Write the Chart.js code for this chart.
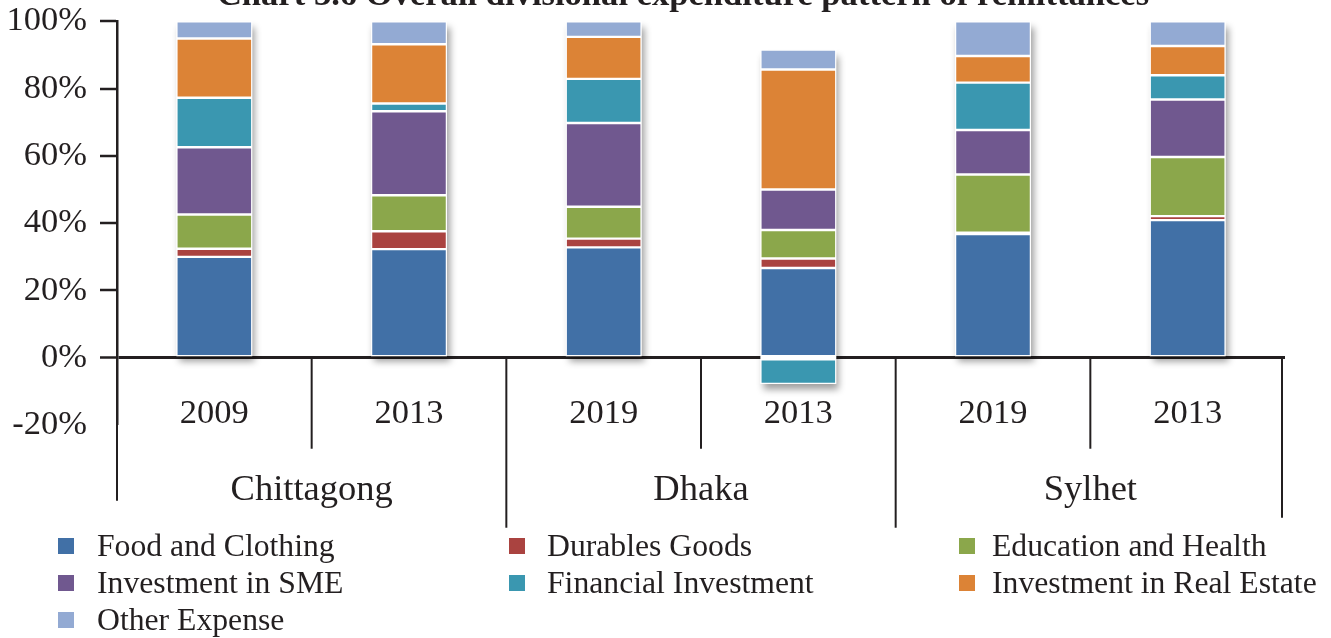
<!DOCTYPE html>
<html>
<head>
<meta charset="utf-8">
<script src="https://cdn.jsdelivr.net/npm/chart.js@4.4.1/dist/chart.umd.min.js"></script>
<style>
  html, body { margin: 0; padding: 0; background: #ffffff; overflow: hidden; }
  #wrap { position: absolute; left: 0; top: -24px; width: 1331px; height: 662px; }
</style>
</head>
<body>
<div id="wrap"><canvas id="c" width="1331" height="662"></canvas></div>
<script>
// ---- data ----
const chartTitle = 'Chart 3.6 Overall divisional expenditure pattern of remittances';
const categories = ['2009', '2013', '2019', '2013', '2019', '2013'];
const groups = ['Chittagong', 'Dhaka', 'Sylhet'];
const groupSizes = [2, 2, 2];
const yTickValues = [-20, 0, 20, 40, 60, 80, 100];

const foodClothing      = [30.0, 32.3, 32.8, 26.7, 36.8, 40.9];
const durablesGoods     = [2.4, 5.3, 2.6, 2.8, 0.4, 1.2];
const educationHealth   = [10.2, 10.7, 9.5, 8.5, 17.3, 17.6];
const investmentSME     = [20.0, 25.0, 24.9, 12.0, 13.2, 17.1];
const financialInvest   = [14.7, 2.3, 13.1, -7.8, 14.1, 7.2];
const realEstate        = [17.6, 17.6, 12.5, 35.7, 7.9, 8.7];
const otherExpense      = [5.1, 6.8, 4.6, 5.9, 10.3, 7.3];

const seriesNames = ['Food and Clothing', 'Durables Goods', 'Education and Health',
  'Investment in SME', 'Financial Investment', 'Investment in Real Estate', 'Other Expense'];
const seriesValues = [foodClothing, durablesGoods, educationHealth, investmentSME,
  financialInvest, realEstate, otherExpense];
const seriesColors = ['#4170A6', '#AA4340', '#8BA74B', '#70588F', '#3A97B0', '#DC8336', '#93AAD3'];

const TEXT = '#231f20';
const SERIF = '"Liberation Serif", "Times New Roman", serif';

const datasets = seriesNames.map((name, i) => ({
  label: name,
  data: seriesValues[i],
  backgroundColor: seriesColors[i],
  borderColor: '#ffffff',
  borderWidth: 1.2,
  borderSkipped: false,
  stack: 's'
}));

const decor = {
  id: 'decor',
  beforeDatasetsDraw(chart) {
    const ctx = chart.ctx;
    const n = categories.length;
    ctx.save();
    for (let i = 0; i < n; i++) {
      let top = Infinity, bottom = -Infinity, x = 0, w = 0;
      chart.data.datasets.forEach((d, di) => {
        const el = chart.getDatasetMeta(di).data[i];
        if (!el) return;
        top = Math.min(top, el.y, el.base);
        bottom = Math.max(bottom, el.y, el.base);
        x = el.x; w = el.width;
      });
      ctx.shadowColor = 'rgba(0,0,0,0.38)';
      ctx.shadowBlur = 7;
      ctx.shadowOffsetX = 3;
      ctx.shadowOffsetY = 6;
      ctx.fillStyle = '#ffffff';
      ctx.fillRect(x - w / 2, top, w, bottom - top);
    }
    ctx.restore();
  },
  afterDraw(chart) {
    const ctx = chart.ctx;
    const xs = chart.scales.x;
    const ys = chart.scales.y;
    const zeroY = ys.getPixelForValue(0);
    const n = categories.length;
    const px = i => xs.getPixelForValue(i);
    const half = (px(1) - px(0)) / 2;
    ctx.save();
    // title (top of it is cropped in the reference)
    ctx.fillStyle = TEXT;
    ctx.textAlign = 'center';
    ctx.textBaseline = 'alphabetic';
    ctx.font = 'bold 34.6px ' + SERIF;
    ctx.fillText(chartTitle, 683, 29);

    ctx.strokeStyle = TEXT;
    ctx.lineWidth = 2;
    const line = (x, y1, y2) => { ctx.beginPath(); ctx.moveTo(x, y1); ctx.lineTo(x, y2); ctx.stroke(); };
    let idx = 0;
    const groupBounds = [px(0) - half];
    groupSizes.forEach(s => { idx += s; groupBounds.push(px(idx - 1) + half); });
    for (let i = 1; i < n; i++) {
      const b = (px(i - 1) + px(i)) / 2;
      if (groupBounds.some(g => Math.abs(g - b) < 1)) continue;
      line(b, zeroY, zeroY + 91);
    }
    groupBounds.forEach((g, gi) => {
      let end = zeroY + 170;
      if (gi === 0) end = zeroY + 143;
      if (gi === groupBounds.length - 1) end = zeroY + 160;
      line(gi === 0 ? chart.chartArea.left : g - (gi === groupBounds.length - 1 ? 3 : 0), zeroY, end);
    });
    // year labels
    ctx.fillStyle = TEXT;
    ctx.textAlign = 'center';
    ctx.textBaseline = 'middle';
    ctx.font = '34.5px ' + SERIF;
    categories.forEach((c, i) => ctx.fillText(c, px(i), zeroY + 56));
    // group labels
    ctx.font = '36.5px ' + SERIF;
    idx = 0;
    groups.forEach((g, gi) => {
      const first = idx, last = idx + groupSizes[gi] - 1;
      idx += groupSizes[gi];
      ctx.fillText(g, (px(first) + px(last)) / 2, zeroY + 133);
    });
    // legend
    const colX = [58, 509, 959];
    const textX = [97, 547, 992];
    const rowY = [570, 607, 644];
    ctx.font = '31.7px ' + SERIF;
    ctx.textAlign = 'left';
    seriesNames.forEach((name, i) => {
      const c = i % 3, r = Math.floor(i / 3);
      ctx.fillStyle = seriesColors[i];
      ctx.fillRect(colX[c], rowY[r] - 8, 16, 16);
      ctx.fillStyle = TEXT;
      ctx.fillText(name, textX[c], rowY[r] + 2);
    });
    ctx.restore();
  }
};

new Chart(document.getElementById('c'), {
  type: 'bar',
  data: { labels: categories, datasets },
  plugins: [decor],
  options: {
    responsive: false,
    animation: false,
    devicePixelRatio: 1,
    layout: { padding: { left: 0, right: 46, top: 45.4, bottom: 213 } },
    plugins: {
      legend: { display: false },
      tooltip: { enabled: false },
      title: { display: false }
    },
    datasets: { bar: { categoryPercentage: 1, barPercentage: 0.39 } },
    scales: {
      x: {
        display: false,
        stacked: true
      },
      y: {
        stacked: true,
        min: -20,
        max: 100,
        afterBuildTicks(scale) { scale.ticks = yTickValues.map(v => ({ value: v })); },
        afterFit(scale) { scale.width = 117; },
        ticks: {
          color: TEXT,
          font: { family: SERIF, size: 34.5 },
          padding: 13,
          callback: v => v + '%'
        },
        border: { display: true, color: TEXT, width: 2.5 },
        grid: {
          drawOnChartArea: true,
          drawTicks: true,
          tickLength: 17,
          color: c => (c.tick && c.tick.value === 0) ? TEXT : 'rgba(0,0,0,0)',
          lineWidth: c => (c.tick && c.tick.value === 0) ? 3 : 0,
          tickColor: c => (c.tick && c.tick.value === -20) ? 'rgba(0,0,0,0)' : TEXT,
          tickWidth: 2.5
        }
      }
    }
  }
});
</script>
</body>
</html>
